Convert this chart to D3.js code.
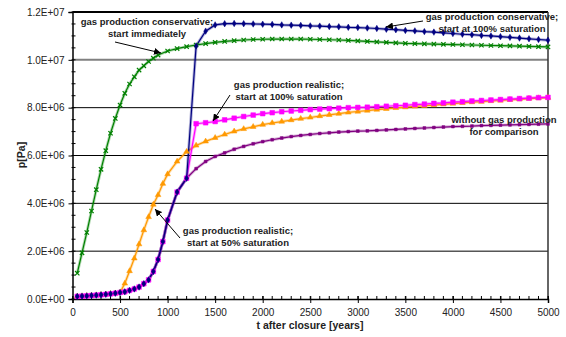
<!DOCTYPE html>
<html>
<head>
<meta charset="utf-8">
<script src="https://cdn.jsdelivr.net/npm/d3@7"></script>
<style>
body { margin: 0; background: #fff; }
text { font-family: Arial, "Liberation Sans", sans-serif; }
</style>
</head>
<body>
<script>
var width = 566,
    height = 337;

// sample times (years)
var yearsBase = [50,100,150,200,250,300,350,400,450,500,550,600,650,700,750,800,850,900,950,1000,1100,1200];
var yearsLate = [1300,1400,1500,1600,1700,1800,1900,2000,2100,2200,2300,2400,2500,2600,2700,2800,2900,3000,
                 3100,3200,3300,3400,3500,3600,3700,3800,3900,4000,4100,4200,4300,4400,4500,4600,4700,4800,4900,5000];
var yearsOrangeEarly = [550,600,650,700,750,800,850,900,950,1000,1100,1200];
var yearsGreen = [50,100,150,200,250,300,350,400,450,500,550,600,650,700,750,800,850,900,
                  1000,1100,1200,1300,1400,1500,1600,1700,1800,1900,2000,2100,2200,2300,2400,2500,2600,2700,2800,2900,
                  3000,3100,3200,3300,3400,3500,3600,3700,3800,3900,4000,4100,4200,4300,4400,4500,4600,4700,4800,4900,5000];

// pressures in MPa (x1e6 Pa)
var pBase = [0.11,0.12,0.13,0.145,0.16,0.175,0.195,0.215,0.24,0.27,0.30,0.36,0.42,0.50,0.64,0.80,1.15,1.65,2.40,3.30,4.47,5.05];
var pGreen = [1.08,1.93,2.78,3.68,4.57,5.42,6.20,6.93,7.55,8.11,8.60,8.99,9.29,9.57,9.75,9.93,10.07,10.20,
              10.37,10.47,10.55,10.62,10.68,10.73,10.77,10.80,10.83,10.85,10.86,10.87,10.87,10.87,10.87,10.86,10.85,10.84,10.83,10.81,
              10.79,10.77,10.75,10.73,10.71,10.69,10.68,10.67,10.66,10.65,10.64,10.63,10.62,10.61,10.60,10.59,10.58,10.57,10.56,10.55,10.54];
var pNavyLate = [10.58,11.20,11.46,11.51,11.52,11.51,11.50,11.49,11.48,11.46,11.45,11.44,11.42,11.41,11.39,11.38,11.36,11.35,
                 11.33,11.31,11.28,11.26,11.23,11.21,11.18,11.16,11.13,11.10,11.07,11.05,11.02,11.00,10.97,10.94,10.91,10.88,10.85,10.82];
var pMagentaLate = [7.33,7.37,7.42,7.49,7.56,7.63,7.69,7.75,7.79,7.83,7.86,7.89,7.92,7.94,7.96,7.98,8.00,8.01,
                    8.02,8.04,8.06,8.08,8.10,8.13,8.15,8.18,8.20,8.23,8.25,8.28,8.30,8.32,8.34,8.36,8.38,8.40,8.42,8.43];
var pOrangeEarly = [0.65,1.17,1.70,2.29,2.88,3.43,3.95,4.35,4.82,5.22,5.75,6.16];
var pOrangeLate = [6.42,6.59,6.74,6.88,7.01,7.11,7.20,7.29,7.36,7.42,7.48,7.54,7.59,7.65,7.70,7.75,7.80,7.84,
                   7.88,7.92,7.95,7.99,8.02,8.05,8.08,8.11,8.14,8.17,8.20,8.23,8.25,8.28,8.30,8.33,8.35,8.38,8.40,8.42];
var pPurpleLate = [5.45,5.75,5.96,6.11,6.26,6.38,6.49,6.58,6.66,6.73,6.79,6.84,6.88,6.92,6.95,6.98,7.00,7.02,
                   7.03,7.05,7.07,7.09,7.11,7.13,7.15,7.17,7.19,7.21,7.22,7.23,7.25,7.26,7.27,7.28,7.29,7.30,7.31,7.32];

var xTicks = [0,500,1000,1500,2000,2500,3000,3500,4000,4500,5000];
var yTicks = [0,2e6,4e6,6e6,8e6,1e7,1.2e7];
var yTickLabels = ["0.0E+00","2.0E+06","4.0E+06","6.0E+06","8.0E+06","1.0E+07","1.2E+07"];

function zip(ts, ps) {
    return ts.map(function(t, i) { return {t: t, p: ps[i] * 1e6}; });
}

var baseTo500 = zip(yearsBase.slice(0, 10), pBase.slice(0, 10));
var baseAll = zip(yearsBase, pBase);

var series = [
    {name: "green", color: "#008000", sym: "times", data: zip(yearsGreen, pGreen)},
    {name: "orange", color: "#FF9900", sym: "triangle", data: baseTo500.concat(zip(yearsOrangeEarly, pOrangeEarly), zip(yearsLate, pOrangeLate))},
    {name: "magenta", color: "#FF00FF", sym: "square", data: baseAll.concat(zip(yearsLate, pMagentaLate))},
    {name: "purple", color: "#800080", sym: "small", data: baseAll.concat(zip(yearsLate, pPurpleLate))},
    {name: "navy", color: "#000080", sym: "diamond", data: baseAll.concat(zip(yearsLate, pNavyLate))}
];

var x = d3.scaleLinear().domain([0, 5000]).range([72.5, 548]);
var y = d3.scaleLinear().domain([0, 1.2e7]).range([299, 12]);

var svg = d3.select("body").append("svg")
    .attr("width", width)
    .attr("height", height);

svg.append("defs").append("marker")
    .attr("id", "arrow")
    .attr("viewBox", "0 0 10 10")
    .attr("refX", 10).attr("refY", 5)
    .attr("markerWidth", 7).attr("markerHeight", 7)
    .attr("markerUnits", "userSpaceOnUse")
    .attr("orient", "auto")
  .append("path")
    .attr("d", "M0,0L10,5L0,10z")
    .attr("fill", "#000");

// gridlines
svg.append("g").selectAll("line")
    .data(yTicks.filter(function(d) { return d > 0 && d < 1.2e7; }))
    .enter().append("line")
      .attr("x1", x(0)).attr("x2", x(5000))
      .attr("y1", function(d) { return y(d); })
      .attr("y2", function(d) { return y(d); })
      .style("stroke", function(d) { return d === 1e7 ? "#808080" : "#000"; })
      .style("stroke-width", function(d) { return d === 1e7 ? 2 : 1; });

// frame top/right
svg.append("line").attr("x1", x(0)).attr("x2", x(5000)).attr("y1", y(1.2e7)).attr("y2", y(1.2e7))
    .style("stroke", "#000").style("stroke-width", 2);
svg.append("line").attr("x1", x(5000)).attr("x2", x(5000)).attr("y1", y(1.2e7)).attr("y2", y(0))
    .style("stroke", "#333").style("stroke-width", 1.5);

// minor ticks
var yMinor = d3.range(0, 1.2e7 + 1, 5e5);
svg.append("g").selectAll("line").data(yMinor).enter().append("line")
    .attr("x1", x(0) - 1).attr("x2", x(0) + 3)
    .attr("y1", function(d) { return y(d); }).attr("y2", function(d) { return y(d); })
    .style("stroke", "#000");
var xMinor = d3.range(0, 5001, 100);
svg.append("g").selectAll("line").data(xMinor).enter().append("line")
    .attr("y1", y(0) - 3).attr("y2", y(0) + 1)
    .attr("x1", function(d) { return x(d); }).attr("x2", function(d) { return x(d); })
    .style("stroke", "#000");

// axes
var yAxis = d3.axisLeft(y).tickValues(yTicks).tickSize(4).tickPadding(4)
    .tickFormat(function(d, i) { return yTickLabels[i]; });
var gy = svg.append("g").attr("transform", "translate(" + x(0) + ",0)").call(yAxis);
gy.select(".domain").style("stroke-width", 1.5);
gy.selectAll("text").style("font-size", "10px").style("fill", "#222");

var xAxis = d3.axisBottom(x).tickValues(xTicks).tickSize(4).tickPadding(6).tickFormat(d3.format("d"));
var gx = svg.append("g").attr("transform", "translate(0," + y(0) + ")").call(xAxis);
gx.select(".domain").style("stroke-width", 1.5);
gx.selectAll(".tick line").attr("y1", -3);
gx.selectAll("text").style("font-size", "10px").style("fill", "#222");

// series lines
var line = d3.line()
    .x(function(d) { return x(d.t); })
    .y(function(d) { return y(d.p); });

series.forEach(function(s) {
    svg.append("path")
        .datum(s.data)
        .attr("d", line)
        .style("fill", "none")
        .style("stroke", s.color)
        .style("stroke-opacity", 0.3)
        .style("stroke-width", 3);
    svg.append("path")
        .datum(s.data)
        .attr("d", line)
        .style("fill", "none")
        .style("stroke", s.color)
        .style("stroke-width", 1.2);
});

var symbols = {
    times: d3.symbol().type(d3.symbolTimes).size(14),
    triangle: d3.symbol().type(d3.symbolTriangle).size(14),
    square: d3.symbol().type(d3.symbolSquare).size(22),
    small: d3.symbol().type(d3.symbolSquare).size(8),
    diamond: d3.symbol().type(d3.symbolDiamond).size(12)
};

series.forEach(function(s) {
    svg.append("g").selectAll("path")
        .data(s.data)
        .enter().append("path")
          .attr("transform", function(d) { return "translate(" + x(d.t) + "," + y(d.p) + ")"; })
          .attr("d", symbols[s.sym])
          .style("fill", s.sym === "times" ? "none" : s.color)
          .style("stroke", s.color)
          .style("stroke-width", s.sym === "times" ? 1.2 : 0.5);
});

// annotations
var notes = [
    {lines: ["gas production conservative;", "start immediately"], x: 147, y: 25, arrow: [115, 42, 161, 53]},
    {lines: ["gas production conservative;", "start at 100% saturation"], x: 492, y: 20, arrow: [423, 21, 386, 27]},
    {lines: ["gas production realistic;", "start at 100% saturation"], x: 289, y: 88, arrow: [230, 95, 213, 121]},
    {lines: ["without gas production", "for comparison"], x: 504, y: 123, arrow: null},
    {lines: ["gas production realistic;", "start at 50% saturation"], x: 238, y: 234, arrow: [180, 238, 155, 209]}
];

notes.forEach(function(n) {
    if (n.arrow) {
        svg.append("line")
            .attr("x1", n.arrow[0]).attr("y1", n.arrow[1])
            .attr("x2", n.arrow[2]).attr("y2", n.arrow[3])
            .style("stroke", "#000").style("stroke-width", 1)
            .attr("marker-end", "url(#arrow)");
    }
    var t = svg.append("text")
        .attr("text-anchor", "middle")
        .style("font-size", "9.5px")
        .style("font-weight", "bold")
        .style("fill", "#222");
    n.lines.forEach(function(l, i) {
        t.append("tspan").attr("x", n.x).attr("y", n.y + i * 11.5).text(l);
    });
});

// axis titles
svg.append("text")
    .attr("x", 310).attr("y", 329)
    .attr("text-anchor", "middle")
    .style("font-size", "10.5px").style("font-weight", "bold").style("fill", "#222")
    .text("t after closure [years]");

svg.append("text")
    .attr("transform", "translate(25,155) rotate(-90)")
    .attr("text-anchor", "middle")
    .style("font-size", "10.5px").style("font-weight", "bold").style("fill", "#222")
    .text("p[Pa]");
</script>
</body>
</html>
